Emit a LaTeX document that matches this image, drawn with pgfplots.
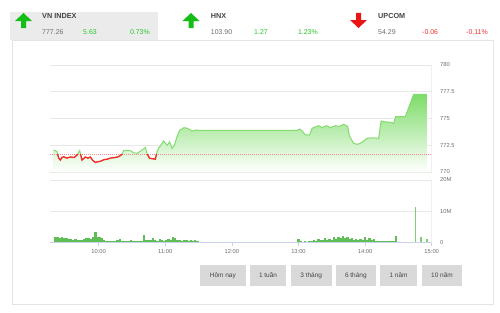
\documentclass[border=0pt]{standalone}
\usepackage{pgfplots}
\pgfplotsset{compat=1.18}
\usepackage{pgfplotstable}
\usepackage{fontspec}
\setmainfont{Liberation Sans}
\definecolor{hdrgray}{RGB}{235,235,235}
\definecolor{panelborder}{RGB}{228,228,228}
\definecolor{gridc}{RGB}{232,232,232}
\definecolor{txtdark}{RGB}{70,70,70}
\definecolor{txtgray}{RGB}{110,110,110}
\definecolor{upgreen}{RGB}{40,200,40}
\definecolor{arrowgreen}{RGB}{20,190,20}
\definecolor{downred}{RGB}{240,50,50}
\definecolor{arrowred}{RGB}{235,20,20}
\definecolor{linegreen}{RGB}{130,220,110}
\definecolor{linered}{RGB}{250,40,40}
\definecolor{fillgreen}{RGB}{125,220,105}
\definecolor{volgreen}{RGB}{95,190,85}
\definecolor{btngray}{RGB}{217,217,217}
\definecolor{axisblue}{RGB}{200,212,230}

\pgfplotstableread{
t v
9.324 772.06
9.375 771.90
9.400 771.30
9.425 771.12
9.450 771.35
9.474 771.43
9.520 771.30
9.575 771.40
9.630 771.35
9.676 771.59
9.715 772.00
9.735 771.50
9.751 771.12
9.800 771.40
9.840 771.30
9.875 771.40
9.910 771.10
9.950 770.90
9.990 770.96
10.026 771.00
10.080 771.15
10.130 771.20
10.176 771.30
10.240 771.35
10.300 771.43
10.351 771.65
10.375 772.00
10.476 772.00
10.526 771.80
10.577 771.74
10.640 772.00
10.701 772.28
10.727 771.70
10.766 771.28
10.851 771.20
10.877 771.90
10.899 772.20
10.976 772.90
11.027 772.50
11.066 772.80
11.102 772.20
11.137 772.50
11.177 773.30
11.216 773.90
11.280 774.14
11.327 774.10
11.402 773.83
11.477 773.93
11.500 773.88
12.979 773.88
13.018 774.02
13.054 773.85
13.104 773.46
13.168 773.46
13.204 774.08
13.303 774.33
13.354 774.15
13.419 774.33
13.479 774.15
13.554 774.33
13.604 774.25
13.679 774.46
13.739 774.25
13.769 773.30
13.829 772.68
13.880 772.59
13.929 772.68
13.979 772.90
14.030 773.15
14.105 773.20
14.204 773.15
14.240 774.77
14.279 774.70
14.380 774.65
14.429 774.55
14.459 775.17
14.604 775.17
14.729 777.26
14.929 777.26
}\price

\pgfplotstableread{
t m
9.350 1.7
9.383 1.9
9.417 1.6
9.450 1.8
9.483 1.5
9.517 1.4
9.550 1.3
9.583 1.2
9.617 1.0
9.650 1.1
9.683 0.9
9.717 1.0
9.750 0.8
9.783 1.2
9.817 1.4
9.850 1.6
9.883 1.3
9.917 1.8
9.950 3.3
9.983 1.9
10.017 1.7
10.050 1.5
10.083 0.8
10.117 0.6
10.150 0.7
10.183 0.5
10.217 0.6
10.250 0.5
10.283 0.8
10.317 1.3
10.350 0.6
10.383 0.7
10.417 0.5
10.450 0.6
10.483 0.8
10.517 0.5
10.550 0.6
10.583 0.4
10.617 0.5
10.650 0.7
10.683 2.4
10.717 0.9
10.750 0.8
10.783 1.0
10.817 1.6
10.850 0.9
10.883 0.7
10.917 1.1
10.950 0.8
10.983 0.6
11.017 0.9
11.050 1.2
11.083 1.0
11.117 1.9
11.150 1.4
11.183 0.8
11.217 1.0
11.250 0.7
11.283 0.9
11.317 0.8
11.350 0.6
11.383 0.9
11.417 0.7
11.450 0.8
11.483 0.6
13.000 1.1
13.033 0.4
13.067 0.3
13.100 0.4
13.133 0.3
13.167 0.5
13.200 0.6
13.233 0.9
13.267 0.7
13.300 1.2
13.333 0.8
13.367 1.0
13.400 1.5
13.433 0.9
13.467 1.3
13.500 1.0
13.533 1.7
13.567 1.2
13.600 1.9
13.633 1.4
13.667 2.0
13.700 1.6
13.733 1.9
13.767 1.1
13.800 1.5
13.833 1.0
13.867 1.3
13.900 0.9
13.933 1.2
13.967 0.8
14.000 1.9
14.033 1.0
14.067 1.4
14.100 0.8
14.133 1.1
14.167 0.6
14.200 0.7
14.233 0.5
14.267 0.6
14.300 0.4
14.333 0.6
14.367 0.5
14.400 0.7
14.433 0.6
14.467 2.1
}\volume

\pgfplotstableread{
t m
14.755 11.4
14.840 1.7
14.930 1.2
}\volatc

\begin{document}
\begin{tikzpicture}[x=1bp,y=1bp]
\useasboundingbox[fill=white] (0,0) rectangle (500,312);
% panel
\draw[panelborder, line width=0.8bp] (12,8) rectangle (493,272);
\fill[hdrgray] (10,272) rectangle (158,300);
% arrows
\fill[arrowgreen] (23.5,299) -- (32,291) -- (26,291) -- (26,284) -- (21,284) -- (21,291) -- (15,291) -- cycle;
\fill[arrowgreen] (191,299) -- (199.5,291) -- (193.5,291) -- (193.5,284) -- (188.5,284) -- (188.5,291) -- (182.5,291) -- cycle;
\fill[arrowred] (358.5,284) -- (367,292) -- (361,292) -- (361,299) -- (356,299) -- (356,292) -- (350,292) -- cycle;
% header text
\begin{scope}[every node/.style={inner sep=0pt, font=\fontsize{7}{8}\selectfont}]
\node[anchor=base west, text=txtdark, font=\fontsize{7.3}{8}\selectfont\bfseries] at (42,294) {VN INDEX};
\node[anchor=base west, text=txtgray] at (42,277.3) {777.26};
\node[anchor=base west, text=upgreen] at (83,277.3) {5.63};
\node[anchor=base east, text=upgreen] at (150,277.3) {0.73\%};
\node[anchor=base west, text=txtdark, font=\fontsize{7.3}{8}\selectfont\bfseries] at (210.7,294) {HNX};
\node[anchor=base west, text=txtgray] at (210.7,277.3) {103.90};
\node[anchor=base west, text=upgreen] at (254,277.3) {1.27};
\node[anchor=base east, text=upgreen] at (318,277.3) {1.23\%};
\node[anchor=base west, text=txtdark, font=\fontsize{7.3}{8}\selectfont\bfseries] at (378,294) {UPCOM};
\node[anchor=base west, text=txtgray] at (378,277.3) {54.29};
\node[anchor=base west, text=downred] at (422,277.3) {-0.06};
\node[anchor=base east, text=downred] at (488,277.3) {-0.11\%};
\end{scope}
% buttons
\begin{scope}[every node/.style={inner sep=0pt, text=txtdark, font=\fontsize{6.5}{7}\selectfont}]
\foreach \a/\b/\lbl in {200/245.7/Hôm nay, 250/286/1 tuần, 290.7/331.7/3 tháng, 335.7/376/6 tháng, 380/417/1 năm, 421.7/462.3/10 năm}{
  \fill[btngray] (\a,26.3) rectangle (\b,47);
  \node at ({(\a+\b)/2},36.6) {\lbl};
}
\end{scope}

% price chart
\begin{axis}[
  at={(50bp,140bp)}, anchor=south west, scale only axis,
  width=381.7bp, height=107bp,
  xmin=9.27, xmax=15, ymin=770, ymax=780,
  axis line style={draw=none},
  xtick=\empty,
  ytick={770,772.5,775,777.5,780},
  yticklabels={770,772.5,775,777.5,780},
  yticklabel pos=right,
  ymajorgrids, grid style={gridc, line width=0.8bp},
  major tick length=0pt,
  yticklabel style={font=\fontsize{5.8}{6}\selectfont, text=txtgray, anchor=west, xshift=5bp},
  clip=true,
]
\addplot[draw=none, top color=fillgreen, bottom color=white] table[x=t,y=v] {\price} -- (axis cs:14.929,770) -- (axis cs:9.324,770) -- cycle;
\addplot[red!45, line width=1bp, dash pattern=on 1bp off 1bp] coordinates {(9.27,771.63) (15,771.63)};
\addplot[linegreen, line width=1bp] table[x=t,y=v] {\price};
\draw[gridc, line width=0.8bp] (rel axis cs:1,0) -- (rel axis cs:1,1);
\end{axis}
% red part of the price line: same x range, y clipped to below the reference 771.63
\begin{axis}[
  at={(50bp,140bp)}, anchor=south west, scale only axis,
  width=381.7bp, height=17.441bp,
  xmin=9.27, xmax=15, ymin=770, ymax=771.63,
  hide axis, clip=true,
]
\addplot[linered, line width=1.3bp] table[x=t,y=v] {\price};
\end{axis}

% volume chart
\begin{axis}[
  at={(50bp,69.3bp)}, anchor=south west, scale only axis,
  width=381.7bp, height=62.7bp,
  xmin=9.27, xmax=15, ymin=0, ymax=20,
  axis line style={draw=none},
  xtick={10,11,12,13,14,15},
  xticklabels={10:00,11:00,12:00,13:00,14:00,15:00},
  ytick={0,10,20},
  yticklabels={0,10M,20M},
  yticklabel pos=right,
  xtick pos=bottom,
  ymajorgrids, grid style={gridc, line width=0.8bp},
  tick align=outside,
  xtick style={draw=axisblue, line width=0.6bp},
  ytick style={draw=none},
  major tick length=3bp,
  yticklabel style={font=\fontsize{5.8}{6}\selectfont, text=txtgray, anchor=west, xshift=2bp},
  xticklabel style={font=\fontsize{5.8}{6}\selectfont, text=txtgray},
  clip=true,
]
\addplot[ycomb, volgreen, line width=2.4bp] table[x=t,y=m] {\volume};
\addplot[ycomb, volgreen!80, line width=1.3bp] table[x=t,y=m] {\volatc};
\draw[axisblue, line width=0.8bp] (rel axis cs:0,0) -- (rel axis cs:1,0);
\draw[gridc, line width=0.8bp] (rel axis cs:1,0) -- (rel axis cs:1,1);
\end{axis}
\end{tikzpicture}
\end{document}
